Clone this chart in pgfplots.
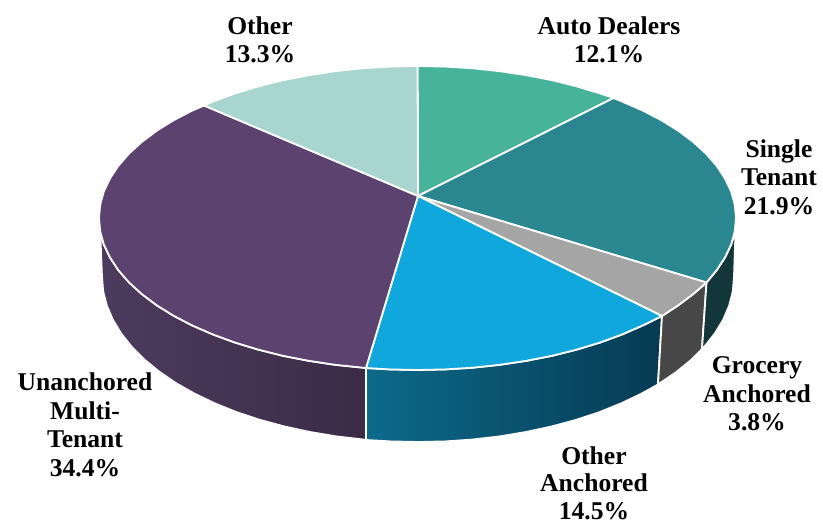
\documentclass[border=0pt]{standalone}
\usepackage{fontspec}
\setmainfont{Liberation Serif}
\usepackage{pgfplots}
\pgfplotsset{compat=1.18}
\definecolor{cAuto}{HTML}{48B39B}
\definecolor{cSingle}{HTML}{2A868F}
\definecolor{cGrocery}{HTML}{A5A5A5}
\definecolor{cAnch}{HTML}{10A8DC}
\definecolor{cUn}{HTML}{5B426F}
\definecolor{cOther}{HTML}{A8D5CF}
\definecolor{sSingle}{HTML}{12363A}
\definecolor{sGrocery}{HTML}{474747}
\definecolor{sAnchL}{HTML}{0C6A8B}
\definecolor{sAnchM}{HTML}{084C68}
\definecolor{sAnchR}{HTML}{063A52}
\definecolor{sUnL}{HTML}{4C3B5D}
\definecolor{sUnR}{HTML}{3C2B47}
\begin{document}
\begin{tikzpicture}[x=1pt,y=1pt]
\useasboundingbox (0,0) rectangle (823,524);
\begin{axis}[
  at={(0,0)},anchor=south west,
  x=1pt,y=1pt,y dir=reverse,
  xmin=0,xmax=823,ymin=0,ymax=524,
  hide axis,clip=false,
  every axis plot/.append style={draw=white,line width=1.8pt,line join=round,mark=none},
]
% side faces
\addplot[shade,left color=sUnL,right color=sUnR,draw=white] coordinates {
 (366,368) (366,440) (363.1,439.5) (336.2,436.4) (309.9,432) (284.5,426.5) (260,419.9) (236.7,412.2)
 (214.9,403.4) (194.6,393.7) (175.9,383.1) (159.1,371.6) (144.3,359.5) (131.6,346.7) (121.1,333.4)
 (112.8,319.7) (106.8,305.6) (103.2,291.4) (102,277) (100.2,232) (103.8,244.4) (109.9,257.3)
 (118.2,270) (128.8,282.2) (141.7,294) (156.6,305.2) (173.5,315.7) (192.3,325.5) (212.8,334.4)
 (234.8,342.5) (258.2,349.6) (282.9,355.8) (308.6,360.8) (335.1,364.8)
} -- cycle;
\addplot[shade,left color=sAnchL,middle color=sAnchM,right color=sAnchR,draw=white] coordinates {
 (366,368) (366,440) (390.4,441.4) (418,442) (445.6,441.4) (472.9,439.5) (499.8,436.4) (526.1,432)
 (551.5,426.5) (576,419.9) (599.3,412.2) (621.1,403.4) (641.4,393.7) (658,384.5) (662,316)
 (642.7,325.5) (622.2,334.4) (600.2,342.5) (576.8,349.6) (552.1,355.8) (526.4,360.8) (499.9,364.8)
 (472.8,367.7) (445.3,369.4) (417.5,370) (389.7,369.4)
} -- cycle;
\addplot[fill=sGrocery,draw=white] coordinates {
 (662,316) (658,384.5) (660.1,383.1) (676.9,371.6) (691.7,359.5) (702,349) (706.5,282.5) (693.3,294) (678.4,305.2)
} -- cycle;
\addplot[fill=sSingle,draw=white] coordinates {
 (706.5,282.5) (702,349) (704.4,346.7) (714.9,333.4) (723.2,319.7) (729.2,305.6) (732.8,291.4) (734,277)
 (735.5,232) (731.2,244.4) (725.1,257.3) (716.8,270)
} -- cycle;
% top faces
\addplot[fill=cAuto] coordinates {
 (418,196) (417.5,66) (445.3,66.6) (472.8,68.3) (499.9,71.2) (526.4,75.2) (552.1,80.2) (576.8,86.4)
 (600.2,93.5) (613.6,98)
} -- cycle;
\addplot[fill=cSingle] coordinates {
 (418,196) (613.6,98) (622.2,101.6) (642.7,110.5) (661.5,120.3) (678.4,130.8) (693.3,142) (706.2,153.8)
 (716.8,166) (725.1,178.7) (731.2,191.6) (734.8,204.7) (736,218) (734.8,231.3) (731.2,244.4)
 (725.1,257.3) (716.8,270) (706.5,282.5)
} -- cycle;
\addplot[fill=cGrocery] coordinates {
 (418,196) (706.5,282.5) (693.3,294) (678.4,305.2) (662,316)
} -- cycle;
\addplot[fill=cAnch] coordinates {
 (418,196) (662,316) (642.7,325.5) (622.2,334.4) (600.2,342.5) (576.8,349.6) (552.1,355.8) (526.4,360.8)
 (499.9,364.8) (472.8,367.7) (445.3,369.4) (417.5,370) (389.7,369.4) (366,368)
} -- cycle;
\addplot[fill=cUn] coordinates {
 (418,196) (366,368) (335.1,364.8) (308.6,360.8) (282.9,355.8) (258.2,349.6) (234.8,342.5) (212.8,334.4)
 (192.3,325.5) (173.5,315.7) (156.6,305.2) (141.7,294) (128.8,282.2) (118.2,270) (109.9,257.3)
 (103.8,244.4) (100.2,231.3) (99,218) (100.2,204.7) (103.8,191.6) (109.9,178.7) (118.2,166)
 (128.8,153.8) (141.7,142) (156.6,130.8) (173.5,120.3) (192.3,110.5) (204,105.5)
} -- cycle;
\addplot[fill=cOther] coordinates {
 (418,196) (204,105.5) (212.8,101.6) (234.8,93.5) (258.2,86.4) (282.9,80.2) (308.6,75.2) (335.1,71.2)
 (362.2,68.3) (389.7,66.6) (417.5,66)
} -- cycle;
% labels
\tikzset{lab/.style={align=center,inner sep=0pt,font=\bfseries\fontsize{25.6}{28.5}\selectfont,text=black}}
\node[lab] at (axis cs:260,40) {Other\\13.3\%};
\node[lab] at (axis cs:609,40) {Auto Dealers\\12.1\%};
\node[lab] at (axis cs:779,177) {Single\\Tenant\\21.9\%};
\node[lab] at (axis cs:757,394) {Grocery\\Anchored\\3.8\%};
\node[lab,font=\bfseries\fontsize{25.6}{27.5}\selectfont] at (axis cs:594,483) {Other\\Anchored\\14.5\%};
\node[lab] at (axis cs:85,425) {Unanchored\\Multi-\\Tenant\\34.4\%};
\end{axis}
\end{tikzpicture}
\end{document}
